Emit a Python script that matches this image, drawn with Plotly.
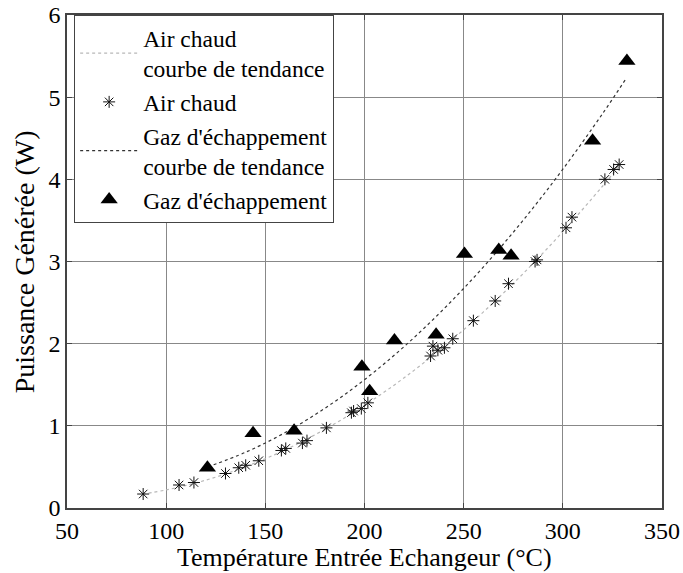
import plotly.graph_objects as go

# Measured points: hot air
air_T = [88.4, 106.5, 114, 129.9, 136.6, 140.1, 146.7, 158.1, 160.3, 168.7, 171,
         180.8, 193.4, 194.5, 198.4, 201.7, 233.3, 234.5, 237, 240.3, 244.5,
         254.9, 265.9, 272.6, 286, 287, 301.6, 304.6, 321.2, 325.6, 328.4]
air_P = [0.17, 0.28, 0.31, 0.42, 0.49, 0.52, 0.575, 0.70, 0.725, 0.79, 0.82,
         0.975, 1.16, 1.18, 1.21, 1.28, 1.85, 1.97, 1.92, 1.95, 2.06,
         2.28, 2.52, 2.73, 3.0, 3.02, 3.41, 3.54, 4.0, 4.12, 4.18]

# Measured points: exhaust gas
gaz_T = [120.8, 143.8, 164.5, 198.7, 202.6, 215.1, 236.1, 250.4, 267.7, 273.9, 315, 332.3]
gaz_P = [0.49, 0.91, 0.94, 1.72, 1.42, 2.04, 2.11, 3.09, 3.14, 3.07, 4.47, 5.44]

# Trend curves
air_trend_T = [88, 100, 120, 140, 160, 180, 200, 220, 240, 260, 280, 300, 320, 329]
air_trend_P = [0.170, 0.220, 0.339, 0.502, 0.708, 0.957, 1.249, 1.585, 1.964,
               2.387, 2.853, 3.363, 3.916, 4.179]
gaz_trend_T = [121, 140, 160, 180, 200, 220, 240, 260, 280, 300, 320, 332]
gaz_trend_P = [0.500, 0.678, 0.918, 1.213, 1.562, 1.965, 2.423, 2.935, 3.502,
               4.123, 4.798, 5.230]

x_ticks = [50, 100, 150, 200, 250, 300, 350]
y_ticks = [0, 1, 2, 3, 4, 5, 6]

X_TITLE = "Température Entrée Echangeur (°C)"
Y_TITLE = "Puissance Générée (W)"

FONT = "'Liberation Serif', 'Times New Roman', 'DejaVu Serif', serif"

fig = go.Figure()
fig.add_trace(go.Scatter(
    x=air_trend_T, y=air_trend_P, mode="lines", line_shape="spline",
    name="Air chaud<br>courbe de tendance",
    line=dict(color="#b8b8b8", width=1.2, dash="dot")))
fig.add_trace(go.Scatter(
    x=air_T, y=air_P, mode="markers", name="Air chaud",
    marker=dict(symbol="asterisk-open", size=10, color="#111",
                line=dict(color="#111", width=1))))
fig.add_trace(go.Scatter(
    x=gaz_trend_T, y=gaz_trend_P, mode="lines", line_shape="spline",
    name="Gaz d'échappement<br>courbe de tendance",
    line=dict(color="#333", width=1.2, dash="dot")))
fig.add_trace(go.Scatter(
    x=gaz_T, y=gaz_P, mode="markers", name="Gaz d'échappement",
    marker=dict(symbol="triangle-up", size=15, color="black")))

axis_common = dict(
    showgrid=True, gridcolor="#888", gridwidth=1,
    showline=True, linecolor="#444", linewidth=1.5, mirror="ticks",
    ticks="inside", ticklen=5, tickcolor="#444", zeroline=False,
    automargin=False,
    tickfont=dict(family=FONT, size=24, color="black"),
)

fig.update_xaxes(range=[50, 350], tickvals=x_ticks, **axis_common)
fig.update_yaxes(range=[0, 6], tickvals=y_ticks, **axis_common)

# Axis titles placed as paper-anchored annotations
fig.add_annotation(text=X_TITLE, xref="paper", yref="paper",
                   x=0.5, y=-0.1318, xanchor="center", yanchor="bottom",
                   showarrow=False, borderpad=0,
                   font=dict(family=FONT, size=26, color="black"))
fig.add_annotation(text=Y_TITLE, xref="paper", yref="paper",
                   x=-0.071, y=0.5, xanchor="center", yanchor="middle",
                   textangle=-90, showarrow=False,
                   font=dict(family=FONT, size=28, color="black"))

fig.update_layout(
    width=683, height=573,
    margin=dict(l=67, r=21, t=15, b=65),
    paper_bgcolor="white", plot_bgcolor="white",
    font=dict(family=FONT, color="black"),
    legend=dict(x=0.012, y=1.0, xanchor="left", yanchor="top",
                bgcolor="white", bordercolor="#444", borderwidth=1,
                font=dict(family=FONT, size=23.5, color="black"),
                itemwidth=58, tracegroupgap=0),
    showlegend=True,
)

fig.write_html("out.html")
